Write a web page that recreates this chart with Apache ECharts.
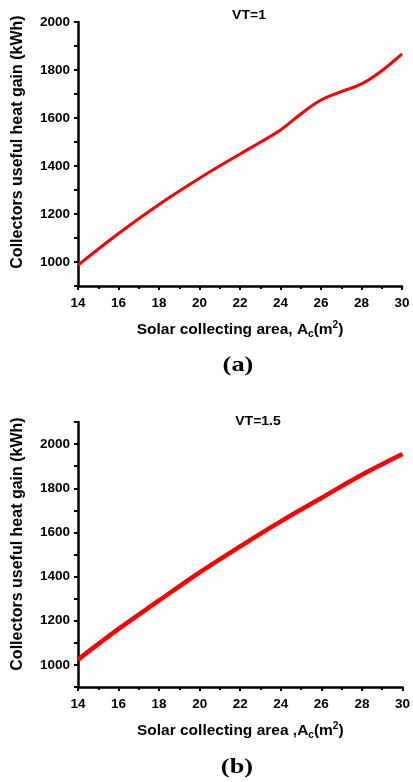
<!DOCTYPE html>
<html>
<head>
<meta charset="utf-8">
<script src="https://cdn.jsdelivr.net/npm/echarts@6/dist/echarts.min.js"></script>
<style>
  html, body { margin: 0; padding: 0; background: #fff; }
  #chart { width: 413px; height: 782px; }
</style>
</head>
<body>
<div id="chart"></div>
<script>
// Solar collecting area (m²) and collectors useful heat gain (kWh)
const areaA = [14, 16, 18, 20, 22, 23, 24, 25, 26, 27, 28, 29, 30];
const gainA = [987, 1119, 1240, 1349, 1450, 1499, 1550, 1617, 1675, 1710, 1742, 1797, 1867];

const areaB = [14, 16, 18, 20, 22, 24, 26, 28, 30];
const gainB = [1024, 1163, 1292, 1419, 1537, 1650, 1756, 1861, 1955];

const panelLabels = ['(a)', '(b)'];
const vtLabels = ['VT=1', 'VT=1.5'];

const FONT = 'Liberation Sans, Arial, sans-serif';
const SERIF = 'Liberation Serif, Times New Roman, serif';
const chart = echarts.init(document.getElementById('chart'));

function pairs(xs, ys) { return xs.map((x, i) => [x, ys[i]]); }

function xAxisFor(gridIndex, namePrefix) {
  return {
    type: 'value', gridIndex, min: 14, max: 30, interval: 2,
    name: '{n|' + namePrefix + '}{sub|c}{n|(m}{sup|2}{n|)}',
    nameLocation: 'middle', nameGap: 34,
    nameTextStyle: {
      rich: {
        n: { fontFamily: FONT, fontWeight: 'bold', fontSize: 15.5, color: '#000' },
        sub: { fontFamily: FONT, fontWeight: 'bold', fontSize: 10, color: '#000', padding: [9, 0, 0, 0] },
        sup: { fontFamily: FONT, fontWeight: 'bold', fontSize: 10, color: '#000', padding: [0, 0, 9, 0] }
      }
    },
    axisLine: { onZero: false, lineStyle: { color: '#000', width: 2.5 } },
    axisTick: { inside: false, length: 4, lineStyle: { color: '#000', width: 2 } },
    minorTick: { show: true, splitNumber: 2, length: 3, lineStyle: { color: '#000', width: 2 } },
    axisLabel: { fontFamily: FONT, fontWeight: 'bold', fontSize: 13.5, color: '#000', margin: 10 },
    splitLine: { show: false }
  };
}

function yAxisFor(gridIndex, max) {
  return {
    type: 'value', gridIndex, min: 900, max, interval: 100,
    axisLine: { onZero: false, lineStyle: { color: '#000', width: 2.5 } },
    axisTick: { inside: false, length: 4, lineStyle: { color: '#000', width: 2 } },
    axisLabel: {
      fontFamily: FONT, fontWeight: 'bold', fontSize: 13.5, color: '#000', margin: 8,
      formatter: v => (v % 200 === 0 ? String(v) : '')
    },
    splitLine: { show: false }
  };
}

function yName(y) {
  return {
    type: 'text', x: 18, y, rotation: Math.PI / 2,
    style: { text: 'Collectors useful heat gain (kWh)', fontFamily: FONT, fontWeight: 'bold',
             fontSize: 16, fill: '#000', align: 'center', verticalAlign: 'middle' }
  };
}

function smallTitle(x, y, text) {
  return {
    type: 'text', x, y, scaleX: 1.12,
    style: { text, fontFamily: FONT, fontWeight: 'bold', fontSize: 12.5,
             fill: '#000', align: 'center', verticalAlign: 'middle' }
  };
}

function panelTag(x, y, text) {
  return {
    type: 'text', x, y, scaleX: 1.2,
    style: { text, fontFamily: SERIF, fontWeight: 'bold', fontSize: 22,
             fill: '#000', align: 'center', verticalAlign: 'middle' }
  };
}

chart.setOption({
  backgroundColor: '#fff',
  animation: false,
  grid: [
    { left: 78, right: 11, top: 22, bottom: 496 },
    { left: 78, right: 6, top: 422, bottom: 95 }
  ],
  xAxis: [
    xAxisFor(0, 'Solar collecting area, A'),
    xAxisFor(1, 'Solar collecting area ,A')
  ],
  yAxis: [
    yAxisFor(0, 2000),
    yAxisFor(1, 2100)
  ],
  series: [
    {
      type: 'line', xAxisIndex: 0, yAxisIndex: 0, data: pairs(areaA, gainA),
      smooth: 0.4, showSymbol: false, lineStyle: { color: '#ff0000', width: 3 }
    },
    {
      type: 'line', xAxisIndex: 1, yAxisIndex: 1, data: pairs(areaB, gainB),
      smooth: 0.4, showSymbol: false, lineStyle: { color: '#ff0000', width: 4.5 }
    }
  ],
  graphic: [
    yName(142),
    yName(544),
    smallTitle(249, 16, vtLabels[0]),
    smallTitle(258, 422, vtLabels[1]),
    panelTag(238, 365, panelLabels[0]),
    panelTag(237, 767, panelLabels[1])
  ]
});
</script>
</body>
</html>
